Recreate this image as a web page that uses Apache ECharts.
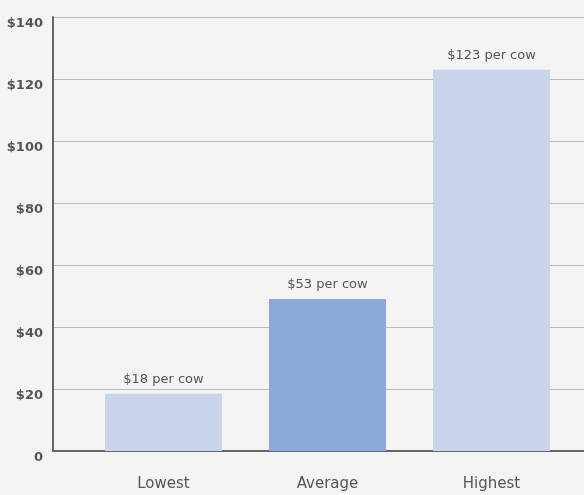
<!DOCTYPE html>
<html><head><meta charset="utf-8">
<script src="https://cdn.jsdelivr.net/npm/echarts@6/dist/echarts.min.js"></script>
<style>html,body{margin:0;padding:0;background:#f4f4f4}#c{width:584px;height:495px}</style>
</head><body><div id="c"></div>
<script>
const categories = ["Lowest", "Average", "Highest"];
const values = [18.5, 49, 123];
const barLabels = ["$18 per cow", "$53 per cow", "$123 per cow"];
const barColors = ["#c8d3ec", "#8aa8d8", "#c8d3ec"];
const yTicks = [0, 20, 40, 60, 80, 100, 120, 140];

const chart = echarts.init(document.getElementById('c'));
const font = "'DejaVu Sans', sans-serif";
chart.setOption({
  backgroundColor: '#f4f4f4',
  animation: false,
  grid: [
    {left: 53, right: 0, top: 17, bottom: 44},
    {left: 81.5, right: 10.5, top: 17, bottom: 44}
  ],
  xAxis: [
    {gridIndex: 0, type: 'value', min: 0, max: 1,
     axisLine: {show: true, lineStyle: {color: '#666', width: 2}},
     axisTick: {show: false}, axisLabel: {show: false}, splitLine: {show: false}},
    {gridIndex: 1, type: 'category', data: categories,
     axisLine: {show: false}, axisTick: {show: false},
     axisLabel: {margin: 26, color: '#555', fontSize: 15, fontWeight: 'normal', fontFamily: font}}
  ],
  yAxis: [
    {gridIndex: 0, type: 'value', min: yTicks[0], max: yTicks[yTicks.length-1], interval: 20,
     axisLine: {show: true, lineStyle: {color: '#666', width: 2}},
     axisTick: {show: false},
     splitLine: {show: true, lineStyle: {color: '#bbb', width: 1}},
     axisLabel: {margin: 10, color: '#555', fontSize: 13, fontWeight: 'bold', fontFamily: font,
       verticalAlign: 'top',
       formatter: v => v === 0 ? '0' : '$' + v}},
    {gridIndex: 1, type: 'value', min: 0, max: 140, show: false, splitLine: {show: false}}
  ],
  series: [{
    type: 'bar', xAxisIndex: 1, yAxisIndex: 1, barWidth: 117,
    data: values.map((v, i) => ({value: v, itemStyle: {color: barColors[i]}})),
    label: {show: true, position: 'top', distance: 8, color: '#555', fontSize: 13,
      fontWeight: 'normal', fontFamily: font,
      formatter: p => barLabels[p.dataIndex]}
  }]
});
</script></body></html>
